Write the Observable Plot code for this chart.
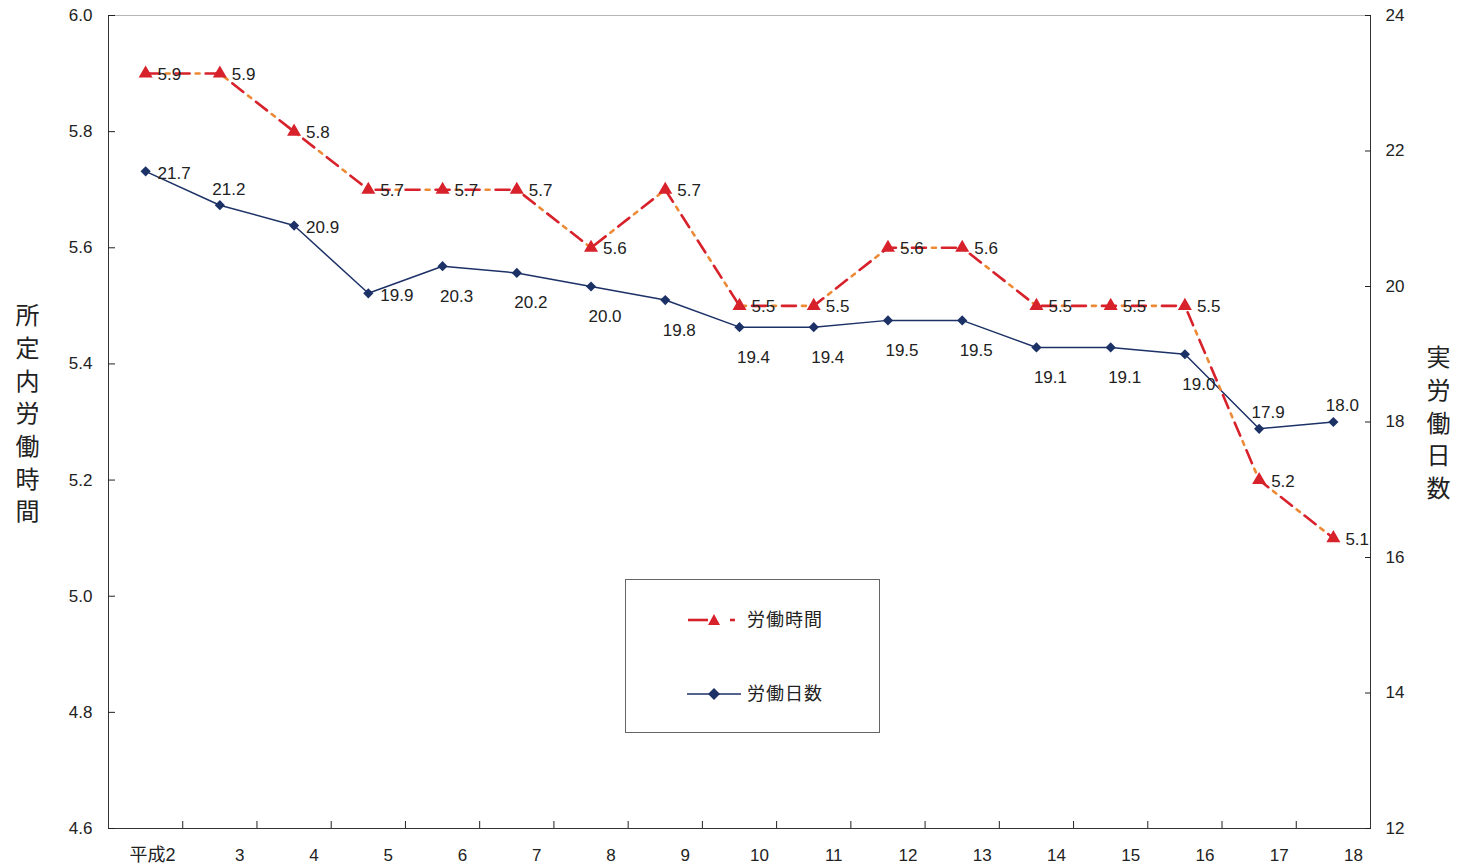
<!DOCTYPE html>
<html><head><meta charset="utf-8">
<script src="https://cdn.jsdelivr.net/npm/d3@7"></script>
<script src="https://cdn.jsdelivr.net/npm/@observablehq/plot@0.6"></script>
<style>
body{margin:0;background:#fff;}
#wrap{position:relative;width:1459px;height:867px;overflow:hidden;}
#wrap svg.plot{position:absolute;left:0;top:0;}
.ytitle{position:absolute;writing-mode:vertical-rl;font-family:"Noto Sans CJK JP",sans-serif;font-size:24px;line-height:24px;letter-spacing:8.7px;color:#222;}
#legend{position:absolute;left:625px;top:579px;width:253px;height:152px;border:1px solid #666;background:#fff;}
</style></head><body>
<div id="wrap">
  <div class="ytitle" style="left:15px;top:303px;">所定内労働時間</div>
  <div class="ytitle" style="left:1426px;top:345px;">実労働日数</div>
</div>
<script>
const years = ["平成2","3","4","5","6","7","8","9","10","11","12","13","14","15","16","17","18"];
const hours = [5.9,5.9,5.8,5.7,5.7,5.7,5.6,5.7,5.5,5.5,5.6,5.6,5.5,5.5,5.5,5.2,5.1];
const days  = [21.7,21.2,20.9,19.9,20.3,20.2,20.0,19.8,19.4,19.4,19.5,19.5,19.1,19.1,19.0,17.9,18.0];
const dayLabelPos = ["right","above","right","right","below","below","below","below","below","below","below","below","below","below","below","above","above"];
const hourTicks = [4.6,4.8,5.0,5.2,5.4,5.6,5.8,6.0];
const dayTicks = [12,14,16,18,20,22,24];
const seriesNames = ["労働時間","労働日数"];

const RED = "#d7212b", ORANGE = "#ec8a35", NAVY = "#1c3166";
const hMin = 4.6, hMax = 6.0, dMin = 12, dMax = 24;
const toH = d => hMin + (d - dMin) * (hMax - hMin) / (dMax - dMin);
const toD = h => dMin + (h - hMin) * (dMax - dMin) / (hMax - hMin);

const hData = years.map((y, i) => ({i, v: hours[i]}));
const dData = years.map((y, i) => ({i, v: days[i], h: toH(days[i]), pos: dayLabelPos[i]}));
const idx = years.map((_, i) => i);
const bounds = d3.range(0.5, years.length - 1, 1);
const numFont = "'Liberation Sans', Arial, 'Noto Sans CJK JP', sans-serif";

const plot = Plot.plot({
  width: 1459, height: 867,
  marginLeft: 108, marginRight: 89, marginTop: 15, marginBottom: 39,
  x: {domain: [-0.5, years.length - 0.5]},
  y: {domain: [hMin, hMax]},
  style: {fontFamily: numFont, fontSize: "17px", color: "#222", background: "white"},
  marks: [
    Plot.frame({stroke: "#b5b5b5"}),
    Plot.ruleX([-0.5, years.length - 0.5], {stroke: "#333"}),
    Plot.ruleY([hMin], {stroke: "#333"}),
    Plot.axisY({ticks: hourTicks, tickFormat: d => d.toFixed(1), tickSize: -7, tickPadding: 23, label: null, anchor: "left", fontSize: 17}),
    Plot.axisY({ticks: dayTicks.map(toH), tickFormat: h => String(Math.round(toD(h))), tickSize: -6, tickPadding: 21, label: null, anchor: "right", fontSize: 17}),
    Plot.axisX({ticks: idx.slice(0, 1), tickFormat: i => years[i], tickSize: 0, tickPadding: 20, dx: 7, label: null, fontSize: 18}),
    Plot.axisX({ticks: idx.slice(1), tickFormat: i => years[i], tickSize: 0, tickPadding: 20, dx: 20, label: null, fontSize: 17}),
    Plot.axisX({ticks: bounds, tickFormat: () => "", tickSize: -7, label: null}),
    Plot.line(dData, {x: "i", y: "h", stroke: NAVY, strokeWidth: 1.5}),
    Plot.dot(dData, {x: "i", y: "h", symbol: "diamond2", r: 4.6, fill: NAVY}),
    Plot.line(hData, {x: "i", y: "v", stroke: RED, strokeWidth: 2.6, strokeDasharray: "14,16"}),
    Plot.line(hData, {x: "i", y: "v", stroke: ORANGE, strokeWidth: 2.6, strokeDasharray: "4,26", strokeDashoffset: -20}),
    Plot.dot(hData, {x: "i", y: "v", symbol: "triangle", r: 5.2, fill: RED}),
    Plot.text(hData, {x: "i", y: "v", text: d => d.v.toFixed(1), dx: 12, dy: 1, textAnchor: "start", fill: "#222"}),
    Plot.text(dData.filter(d => d.pos === "right"), {x: "i", y: "h", text: d => d.v.toFixed(1), dx: 12, dy: 2, textAnchor: "start", fill: "#222"}),
    Plot.text(dData.filter(d => d.pos === "above"), {x: "i", y: "h", text: d => d.v.toFixed(1), dx: 9, dy: -16, fill: "#222"}),
    Plot.text(dData.filter(d => d.pos === "below"), {x: "i", y: "h", text: d => d.v.toFixed(1), dx: 14, dy: 30, fill: "#222"})
  ]
});
plot.classList.add("plot");
const wrap = document.getElementById("wrap");
wrap.insertBefore(plot, wrap.firstChild);

// legend
const leg = document.createElement("div");
leg.id = "legend";
leg.innerHTML = `<svg width="253" height="152" xmlns="http://www.w3.org/2000/svg" font-family="'Noto Sans CJK JP', sans-serif" font-size="18" letter-spacing="1" fill="#222">
  <line x1="62" x2="82" y1="40" y2="40" stroke="${RED}" stroke-width="2.6"/>
  <path d="M88,34 L94,45 L82,45 Z" fill="${RED}"/>
  <line x1="104" x2="109" y1="40" y2="40" stroke="${RED}" stroke-width="2.6"/>
  <text x="121" y="46">${seriesNames[0]}</text>
  <line x1="61" x2="115" y1="114" y2="114" stroke="${NAVY}" stroke-width="1.5"/>
  <path d="M88,108 L94,114 L88,120 L82,114 Z" fill="${NAVY}"/>
  <text x="121" y="120">${seriesNames[1]}</text>
</svg>`;
wrap.appendChild(leg);
</script>
</body></html>
